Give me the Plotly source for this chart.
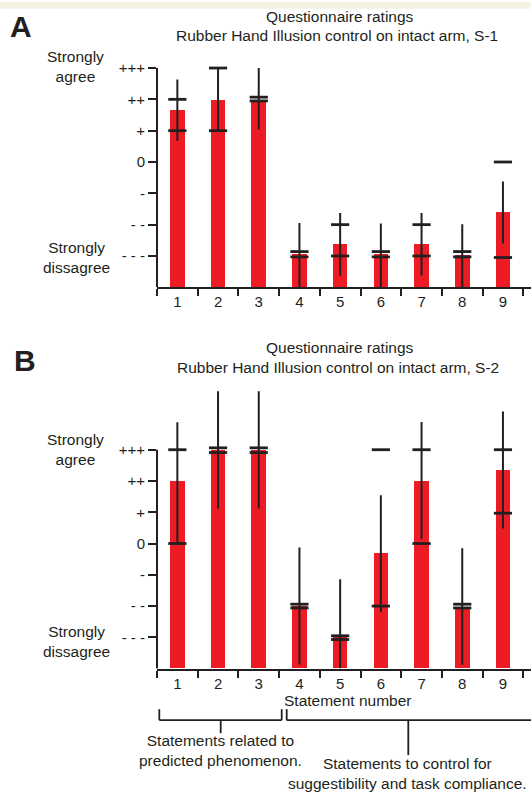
import plotly.graph_objects as go

W, H = 531, 792
FONT = "Liberation Sans, Arial, Helvetica, sans-serif"
INK = "#231f20"
RED = "#ed1c24"

statements = [1, 2, 3, 4, 5, 6, 7, 8, 9]
tick_vals = [3, 2, 1, 0, -1, -2, -3]
tick_text = ["+++", "++", "+", "0", "-", "- -", "- - -"]
BOTTOM = -4

# Panel A (S-1)
a_bar = [1.67, 2.0, 2.0, -2.94, -2.62, -2.94, -2.62, -2.96, -1.59]
a_lo = [0.67, 1.0, 1.04, -4.0, -3.63, -4.0, -3.62, -4.0, -2.6]
a_hi = [2.63, 3.0, 3.0, -1.95, -1.63, -1.96, -1.63, -1.99, -0.62]
a_cap_hi = [2.0, 3.0, 2.07, -2.86, -2.0, -2.86, -2.0, -2.86, 0.0]
a_cap_lo = [1.0, 1.0, 1.95, -3.03, -3.0, -3.03, -3.0, -3.03, -3.05]

# Panel B (S-2)
b_bar = [2.0, 3.0, 3.0, -2.0, -3.0, -0.31, 2.01, -2.02, 2.36]
b_lo = [0.0, 1.12, 1.12, -3.87, -4.0, -2.2, 0.14, -3.88, 0.48]
b_hi = [3.88, 4.87, 4.87, -0.13, -1.14, 1.54, 3.89, -0.15, 4.22]
b_cap_hi = [3.0, 3.06, 3.06, -1.94, -2.95, 3.0, 3.0, -1.94, 3.0]
b_cap_lo = [0.0, 2.91, 2.91, -2.06, -3.07, -2.0, 0.0, -2.06, 0.97]


def px(x):
    return x / W


def py(y):
    return 1 - y / H


fig = go.Figure()


def add_panel(bars, lo, hi, cap_hi, cap_lo, xa, ya):
    fig.add_trace(go.Bar(
        x=statements, y=[v - BOTTOM for v in bars], base=BOTTOM,
        width=0.36, marker=dict(color=RED, line=dict(width=0)),
        xaxis=xa, yaxis=ya, showlegend=False))
    wx, wy = [], []
    for s, l, h in zip(statements, lo, hi):
        wx += [s, s, None]
        wy += [l, h, None]
    fig.add_trace(go.Scatter(
        x=wx, y=wy, mode="lines", line=dict(color=INK, width=2),
        xaxis=xa, yaxis=ya, showlegend=False, hoverinfo="skip"))
    fig.add_trace(go.Scatter(
        x=statements + statements, y=cap_hi + cap_lo, mode="markers",
        marker=dict(symbol="line-ew", size=13, line=dict(color=INK, width=2.8)),
        xaxis=xa, yaxis=ya, showlegend=False, cliponaxis=False))


add_panel(a_bar, a_lo, a_hi, a_cap_hi, a_cap_lo, "x", "y")
add_panel(b_bar, b_lo, b_hi, b_cap_hi, b_cap_lo, "x2", "y2")

unit = 40.7
xr = [0.5, 0.5 + (W - 157) / unit]
xdom = [157 / W, 1]

xcommon = dict(
    range=xr, domain=xdom, showline=True, linewidth=2, linecolor=INK,
    tickmode="array", tickvals=statements, ticktext=[str(s) for s in statements],
    ticks="", showgrid=False, zeroline=False,
    tickfont=dict(family=FONT, size=15, color=INK),
    minor=dict(tickvals=[s - 0.5 for s in statements] + [9.5], ticks="outside",
               ticklen=7, tickwidth=2, tickcolor=INK, showgrid=False),
    fixedrange=True,
)
ycommon = dict(
    tickmode="array", tickvals=tick_vals, ticktext=tick_text,
    ticks="outside", ticklen=8, tickwidth=2, tickcolor=INK,
    showline=False, showgrid=False, zeroline=False,
    tickfont=dict(family=FONT, size=15, color=INK), fixedrange=True,
)

# Panel A: axis bottom at 286px, 31.4 px/unit
a_top_val = 3.2
a_top_px = 286 - (a_top_val - BOTTOM) * 31.4
# Panel B: axis bottom at 668.3px, 31.35 px/unit
b_top_val = 5.0
b_top_px = 668.3 - (b_top_val - BOTTOM) * 31.35

fig.update_layout(
    width=W, height=H, margin=dict(l=0, r=0, t=0, b=0),
    paper_bgcolor="white", plot_bgcolor="white",
    bargap=0, barmode="overlay",
    font=dict(family=FONT, color=INK),
    xaxis=dict(**xcommon, anchor="y"),
    yaxis=dict(**ycommon, range=[BOTTOM, a_top_val], domain=[py(286), py(a_top_px)], anchor="x"),
    xaxis2=dict(**xcommon, anchor="y2"),
    yaxis2=dict(**ycommon, range=[BOTTOM, b_top_val], domain=[py(668.3), py(b_top_px)], anchor="x2"),
)

shapes = [
    dict(type="rect", xref="paper", yref="paper", x0=0, x1=1, y0=py(6.7), y1=1,
         fillcolor="#f5f1e3", line=dict(width=0), layer="below"),
    dict(type="line", xref="x domain", yref="y", x0=0, x1=0, y0=BOTTOM, y1=3,
         line=dict(color=INK, width=2)),
    dict(type="line", xref="x2 domain", yref="y2", x0=0, x1=0, y0=BOTTOM, y1=3,
         line=dict(color=INK, width=2)),
]


def seg(x0, y0, x1, y1):
    shapes.append(dict(type="line", xref="paper", yref="paper",
                       x0=px(x0), y0=py(y0), x1=px(x1), y1=py(y1),
                       line=dict(color=INK, width=1.8)))


# bracket 1
seg(159.3, 709, 159.3, 720)
seg(281.7, 709, 281.7, 720)
seg(159.3, 720, 281.7, 720)
seg(220.7, 720, 220.7, 733)
# bracket 2
seg(286.7, 709, 286.7, 720)
seg(286.7, 720, 531, 720)
seg(408.3, 720, 408.3, 755)

fig.update_layout(shapes=shapes)

ann = []


def text(x, y, s, size=15.5, bold=False):
    ann.append(dict(xref="paper", yref="paper", x=px(x), y=py(y), text=("<b>%s</b>" % s) if bold else s,
                    showarrow=False, xanchor="center", yanchor="middle",
                    font=dict(family=FONT, size=size, color=INK)))


text(21.2, 24.7, "A", size=30, bold=True)
text(340.3, 15, "Questionnaire ratings")
text(336.8, 33.7, "Rubber Hand Illusion control on intact arm, S-1")
text(75, 64.5, "Strongly<br>agree")
text(76, 256.5, "Strongly<br>dissagree")

text(25.3, 359.8, "B", size=30, bold=True)
text(340.3, 346.7, "Questionnaire ratings")
text(338, 366, "Rubber Hand Illusion control on intact arm, S-2")
text(75, 449, "Strongly<br>agree")
text(76.7, 641, "Strongly<br>dissagree")

text(348, 700.7, "Statement number")
text(220.5, 750.5, "Statements related to<br>predicted phenomenon.")
text(407, 773.5, "Statements to control for<br>suggestibility and task compliance.")

fig.update_layout(annotations=ann)

fig.write_html(
    "out.html",
    config={"displayModeBar": False},
    post_script="document.body.style.margin='0';document.body.style.overflow='hidden';",
)
